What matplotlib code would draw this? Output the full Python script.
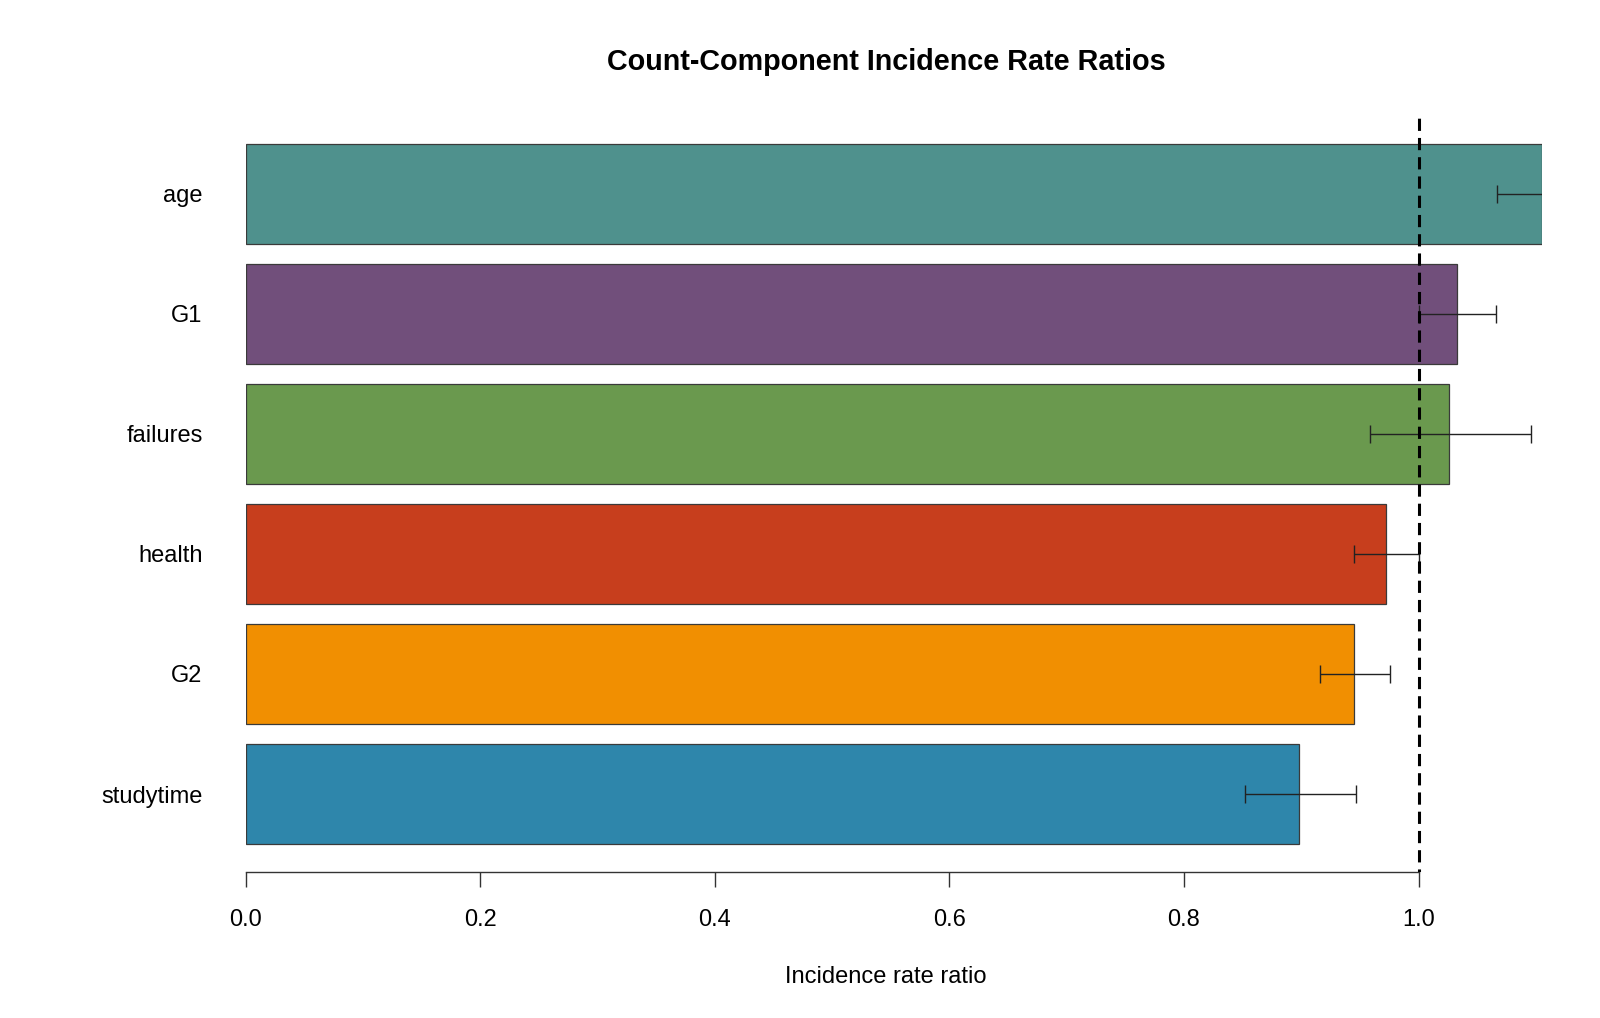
import numpy as np
import matplotlib
matplotlib.use("Agg")
import matplotlib.pyplot as plt

plt.rcParams['font.family'] = ['Liberation Sans', 'DejaVu Sans']

# bottom to top, as drawn
variables = ["studytime", "G2", "health", "failures", "G1", "age"]
irr = [0.898, 0.945, 0.972, 1.026, 1.033, 1.105]
ci_low = [0.852, 0.916, 0.945, 0.959, 1.000, 1.067]
ci_high = [0.947, 0.976, 1.000, 1.096, 1.066, 1.144]
colors = ["#2E86AB", "#F18F01", "#C73E1D", "#6A994E", "#714F7B", "#4F918D"]
ticks = [0.0, 0.2, 0.4, 0.6, 0.8, 1.0]

W, H = 1600, 1018
fig = plt.figure(figsize=(W / 100, H / 100), dpi=100)
ax = fig.add_axes([245.7 / W, (H - 872) / H, 1296 / W, 756 / H])

ypos = 0.7 + 1.2 * np.arange(len(variables))
ax.barh(ypos, irr, height=1.0, color=colors, edgecolor="#3a3a3a", linewidth=0.9, zorder=2)

irr_a = np.array(irr)
xerr = [irr_a - np.array(ci_low), np.array(ci_high) - irr_a]
ax.errorbar(irr, ypos, xerr=xerr, fmt="none", ecolor="#222222", elinewidth=1.0,
            capsize=6.5, capthick=1.0, zorder=3)

ax.axvline(1.0, color="black", linewidth=2.2, linestyle=(3, (4, 2.3)), zorder=4)

ax.set_xlim(0, irr[-1])
ax.set_ylim(-0.08, 7.48)

for s in ["top", "right", "left"]:
    ax.spines[s].set_visible(False)
ax.spines["bottom"].set_bounds(0, 1.0)
ax.spines["bottom"].set_color("#333333")
ax.spines["bottom"].set_linewidth(1.0)

ax.set_xticks(ticks)
ax.set_xticklabels([f"{t:.1f}" for t in ticks])
ax.tick_params(axis="x", direction="out", length=10.8, width=1.0, color="#333333",
               pad=15.5, labelsize=17)
ax.set_yticks(ypos)
ax.set_yticklabels(variables)
ax.tick_params(axis="y", length=0, pad=31, labelsize=17)

fig.text(886 / W, 1 - 62 / H, "Count-Component Incidence Rate Ratios",
         ha="center", va="center", fontsize=20.7, fontweight="bold")
fig.text(886 / W, 1 - 977 / H, "Incidence rate ratio",
         ha="center", va="center", fontsize=17)

fig.savefig("out.png", dpi=100)
